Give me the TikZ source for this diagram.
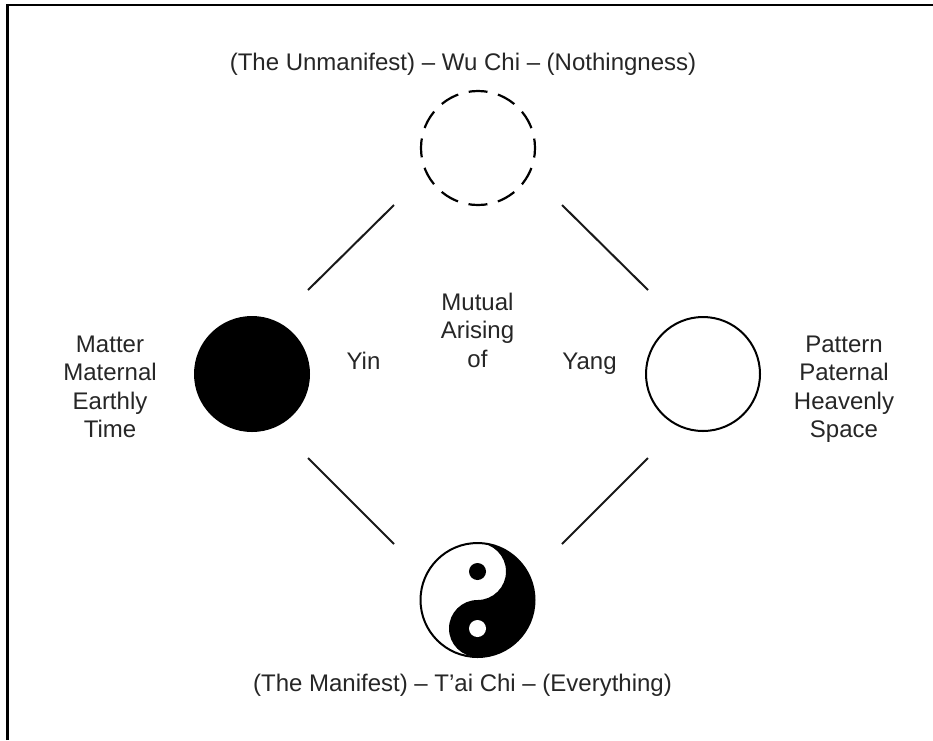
\documentclass[tikz,border=0pt]{standalone}
\usepackage{fontspec}
\setmainfont{Liberation Sans}
\tikzset{
  lbl/.style={align=center,inner sep=0pt,anchor=base,text=black!85,font=\fontsize{24}{28.5}\selectfont},
  disc/.style={circle,minimum size=114pt,inner sep=0pt,line width=2pt,draw=black},
  conn/.style={line width=2pt,draw=black!90},
  frameline/.style={line width=2.6pt,draw=black}
}
\begin{document}
\begin{tikzpicture}[x=1pt,y=-1pt]
\useasboundingbox (0,0) rectangle (933,740);
\fill[white] (0,0) rectangle (933,740);
\coordinate (fa) at (7.5,740);
\coordinate (fb) at (7.5,5);
\coordinate (fc) at (933,5);
\draw[frameline] (fa) -- (fb) -- (fc);
\node[disc,draw=none] (wu) at (478,148) {};
\draw[line width=2.2pt,dash pattern=on 19pt off 10.85pt,dash phase=9.5pt] (478,91) arc[start angle=-90,end angle=270,radius=57];
\node[disc,fill=black] (yin) at (252,374) {};
\node[disc] (yang) at (703,374) {};
\node[disc] (tai) at (477.5,600) {};
\fill[black] (477.5,543) arc[start angle=-90,end angle=90,radius=57]
  arc[start angle=90,end angle=270,radius=28.5]
  arc[start angle=90,end angle=-90,radius=28.5] -- cycle;
\node[circle,fill=black,minimum size=17pt,inner sep=0pt] (dota) at (477.5,571.5) {};
\node[circle,fill=white,minimum size=17pt,inner sep=0pt] (dotb) at (477.5,628.5) {};
\coordinate (a1) at (394,205); \coordinate (a2) at (308,290);
\coordinate (b1) at (562,205); \coordinate (b2) at (648,290);
\coordinate (c1) at (308,458); \coordinate (c2) at (394,544);
\coordinate (d1) at (648,458); \coordinate (d2) at (562,544);
\draw[conn] (a1) -- (a2);
\draw[conn] (b1) -- (b2);
\draw[conn] (c1) -- (c2);
\draw[conn] (d1) -- (d2);
\node[lbl] (top) at (463,70) {(The Unmanifest) -- Wu Chi -- (Nothingness)};
\node[lbl] (bot) at (462.5,691) {(The Manifest) -- T’ai Chi -- (Everything)};
\node[lbl] (lt) at (110,437.5) {Matter\\Maternal\\Earthly\\Time};
\node[lbl] (rt) at (844,437.5) {Pattern\\Paternal\\Heavenly\\Space};
\node[lbl] (mid) at (477.5,367) {Mutual\\Arising\\of};
\node[lbl] (ny) at (363.5,369) {Yin};
\node[lbl] (ng) at (589.5,369) {Yang};
\end{tikzpicture}
\end{document}
